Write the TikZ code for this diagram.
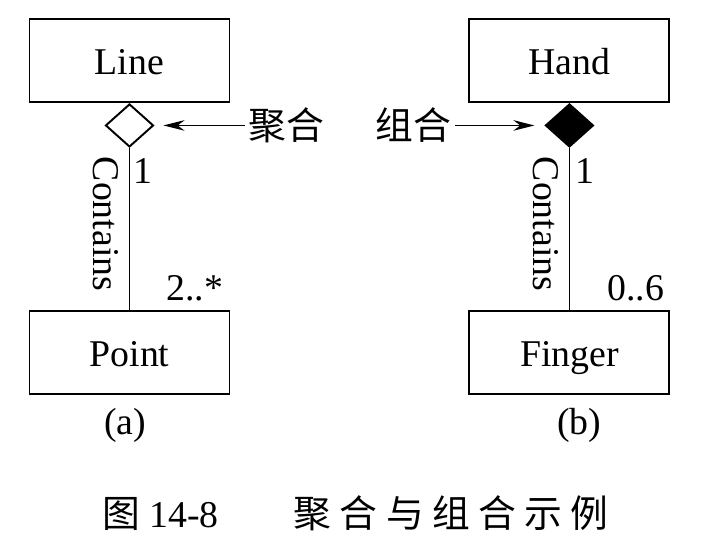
\documentclass[tikz,border=0pt]{standalone}
\usepackage{fontspec}
\setmainfont{Liberation Serif}
\newfontfamily\cjk{Noto Sans CJK SC}
\newfontfamily\cjkcap{Noto Sans CJK SC}[LetterSpace=22]
\usetikzlibrary{positioning, arrows.meta, shapes.geometric}

\begin{document}
\begin{tikzpicture}[node distance=2cm, >={Stealth[length=12pt,width=6pt]},
    font=\fontsize{21.5}{26}\selectfont,
    class/.style={draw, line width=1.1pt, minimum width=4cm, minimum height=1.66cm,
        text height=16pt, text depth=0pt},
    hollow/.style={draw, diamond, line width=1.1pt, inner sep=0pt, minimum width=0.96cm, minimum height=0.86cm},
    tag/.style={inner sep=2pt}]
    \useasboundingbox (0,0) rectangle (14.44,-10.9);
    %classes
    \node (line) [class] at (2.59,-1.21) {Line};
    \node (hand) [class, right=4.76cm of line] {Hand};
    \node (agg) [hollow, below=0pt of line] {};
    \node (comp) [hollow, fill=black, below=0pt of hand] {};
    \node (point) [class, below=3.24cm of agg] {Point};
    \node (finger) [class, below=3.24cm of comp] {Finger};

    %aggregation / composition
    \node (jh) [tag, right=1.81cm of agg] {\cjk 聚合};
    \node (zh) [tag, left=1.79cm of comp] {\cjk 组合};
    \draw[->, line width=0.8pt] (jh) -- ([xshift=0.18cm]agg.east);
    \draw[->, line width=0.8pt] (zh) -- ([xshift=-0.2cm]comp.west);

    %links
    \draw[line width=0.7pt] (agg) -- (point);
    \draw[line width=0.7pt] (comp) -- (finger);
    \path (agg.south) -- (point.north) node (ra) [pos=0.47, rotate=-90, anchor=north, inner sep=6pt] {Contains};
    \path (comp.south) -- (finger.north) node (rb) [pos=0.47, rotate=-90, anchor=north, inner sep=6pt] {Contains};
    \node (m1) [tag, below right=0.13cm and 0cm of agg.south] {1};
    \node (m2) [tag, below right=0.13cm and 0.05cm of comp.south] {1};
    \node (m3) [tag, above right=0.11cm and 0.66cm of point.north] {2..*};
    \node (m4) [tag, above right=0.11cm and 0.68cm of finger.north] {0..6};

    \node (la) [tag, below=0.2cm of point, xshift=-0.09cm] {(a)};
    \node (lb) [tag, below=0.2cm of finger, xshift=0.2cm] {(b)};
    \node (cap) [tag, anchor=west] at (1.97,-10.26) {{\cjk 图} 14-8\hspace{1.5cm}{\cjkcap 聚合与组合示例}};
\end{tikzpicture}
\end{document}
